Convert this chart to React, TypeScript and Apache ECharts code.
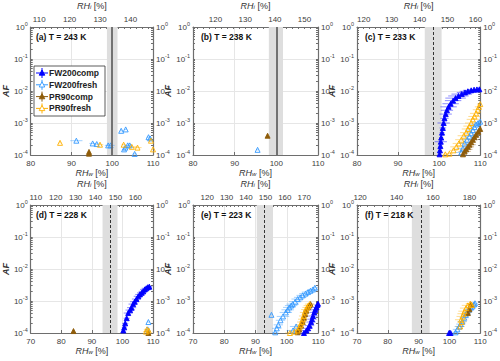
import React, { useEffect, useRef } from "react";
import * as echarts from "echarts";

// ---------- panel settings ----------
const panelTitles = ["(a) T = 243 K", "(b) T = 238 K", "(c) T = 233 K", "(d) T = 228 K", "(e) T = 223 K", "(f) T = 218 K"];
const rhwMin = [80, 80, 80, 70, 70, 70];
const rhwMax = [110, 110, 110, 110, 110, 110];
const iceRatio = [1.34, 1.405, 1.47, 1.535, 1.61, 1.69];
const topTicks = [
  [110, 120, 130, 140],
  [120, 130, 140, 150],
  [120, 130, 140, 150, 160],
  [110, 120, 130, 140, 150, 160],
  [120, 130, 140, 150, 160, 170],
  [120, 140, 160, 180],
];
const topMinorStep = [2, 2, 2, 2, 2, 4];
const bandLo = [98.7, 98.2, 96.5, 93.5, 90.4, 87.8];
const bandHi = [101.3, 101.6, 100.6, 98.4, 95.6, 93.6];
const lineX = [100, 100, 98.5, 96.1, 92.9, 90.7];
const lineDashed = [false, false, true, true, true, true];
const yTicks = [1e-4, 1e-3, 1e-2, 1e-1, 1];

// ---------- series ----------
const seriesNames = ["FW200comp", "FW200fresh", "PR90comp", "PR90fresh"];
const seriesColors = ["#0000ff", "#3399ff", "#8f5c0a", "#ffb000"];
const seriesFilled = [true, false, true, false];

// data: [RHw, AF, RHw error]
const a_FWcomp: number[][] = [];
const a_FWfresh = [[91.2, 2.8e-4, 1.5], [95.2, 2.3e-4, 0.8], [96.2, 2.2e-4, 0.8], [99.0, 2.0e-4, 0.8], [99.6, 2.0e-4, 1.0], [102.2, 5.7e-4, 0.3], [103.3, 6.3e-4, 0.3], [103.8, 2.0e-4, 0.6], [104.3, 2.0e-4, 0.6], [102.9, 1.5e-4, 0.3], [103.2, 1.7e-4, 0.3], [105.5, 1.08e-4, 0.5], [108.9, 3.6e-4, 0.5], [109.3, 3.3e-4, 0.5]];
const a_PRcomp = [[94.3, 1.25e-4, 0.2], [94.3, 1.1e-4, 0.2]];
const a_PRfresh = [[87.2, 2.4e-4, 0.3], [97.0, 2.1e-4, 0.8], [102.8, 2.1e-4, 0.5], [104.8, 1.8e-4, 1.5], [106.2, 1.7e-4, 1.0], [109.5, 2.8e-4, 0.8], [110, 1.5e-4, 0.3]];

const b_FWcomp: number[][] = [];
const b_FWfresh = [[95.5, 1.45e-4, 0.3]];
const b_PRcomp = [[97.9, 4.0e-4, 0.3]];
const b_PRfresh: number[][] = [];

const c_FWcomp = [[100.1, 1.05e-4, 0.3], [100.2, 1.4e-4, 0.3], [100.3, 1.9e-4, 0.5], [100.4, 2.6e-4, 1.5], [100.5, 3.5e-4, 0.5], [100.7, 5e-4, 0.6], [100.9, 7e-4, 0.8], [101.1, 1e-3, 1.5], [101.3, 1.4e-3, 1], [101.6, 1.9e-3, 1.5], [101.9, 2.5e-3, 1.5], [102.3, 3.2e-3, 2], [102.8, 4e-3, 2], [103.4, 5e-3, 2], [104, 6e-3, 2.5], [104.7, 7e-3, 2.5], [105.5, 8e-3, 2.5], [106.3, 9e-3, 2], [107, 9.8e-3, 2], [107.8, 1.05e-2, 2], [108.5, 1.1e-2, 1.5], [109.2, 1.12e-2, 1], [109.8, 1.13e-2, 0.5]];
const c_FWfresh = [[105.4, 1.2e-4, 1.5], [105.8, 1.6e-4, 1.5], [106.2, 2.3e-4, 1.5], [106.8, 3e-4, 1.5], [107.4, 3.8e-4, 1.5], [107.8, 4.8e-4, 1.5], [108.2, 6e-4, 1.5], [108.6, 7.5e-4, 1.2], [109, 9e-4, 1.2], [109.5, 1e-3, 1], [110, 1.1e-3, 0.8]];
const c_PRcomp = [[105.8, 1.05e-4, 1], [106.2, 1.3e-4, 1.5], [106.6, 1.5e-4, 1.5], [107, 1.8e-4, 1.5], [107.4, 2.1e-4, 1.5], [107.8, 2.5e-4, 1.2], [108.2, 3e-4, 1.2], [108.6, 3.6e-4, 1], [109, 4.3e-4, 1], [109.5, 5.3e-4, 0.8], [110, 6.5e-4, 0.5]];
const c_PRfresh = [[101.5, 1.05e-4, 0.5], [102.5, 1.1e-4, 0.8], [103.5, 1.4e-4, 1], [104.2, 1.8e-4, 1.5], [104.8, 2.3e-4, 1.5], [105.4, 3e-4, 1.5], [106, 4e-4, 1.5], [106.6, 5e-4, 1.5], [107, 6.5e-4, 1.5], [107.4, 8e-4, 1.5], [107.8, 1e-3, 1.5], [108.2, 1.3e-3, 1.5], [108.6, 1.6e-3, 1.5], [109, 2e-3, 1.5], [109.4, 2.6e-3, 1.2], [109.7, 3.2e-3, 1], [110, 3.9e-3, 0.8]];

const d_FWcomp = [[100.3, 1.2e-4, 0.5], [100.6, 1.5e-4, 0.8], [100.9, 2e-4, 1], [101.4, 2.9e-4, 1], [101.9, 4.2e-4, 1.5], [102.5, 5.2e-4, 1.5], [103, 6.2e-4, 1.5], [103.5, 8e-4, 1.5], [104, 9.5e-4, 1.5], [104.6, 1.15e-3, 1.5], [105.2, 1.4e-3, 1.5], [105.7, 1.6e-3, 1.5], [106.3, 1.8e-3, 1.5], [106.8, 2e-3, 1.5], [107.3, 2.3e-3, 1.5], [107.8, 2.5e-3, 1.5], [108.3, 2.7e-3, 1.2], [108.8, 2.8e-3, 1]];
const d_FWfresh = [[108.5, 2.2e-4, 0.5], [108.3, 1.3e-4, 0.5]];
const d_PRcomp = [[84, 1.15e-4, 0.3], [108.5, 1.0e-4, 0.5]];
const d_PRfresh = [[108, 1.3e-4, 1], [107.7, 1.1e-4, 1], [108.6, 1.2e-4, 0.5]];

const e_FWcomp = [[105.5, 1.0e-4, 1.5], [106.3, 1.2e-4, 1.5], [106.8, 1.4e-4, 1.5], [107.3, 1.7e-4, 1.5], [107.8, 2.2e-4, 1.5], [108.1, 2.7e-4, 1.5], [108.4, 3.4e-4, 1.5], [108.8, 4.4e-4, 1.5], [109.1, 5.3e-4, 1.5], [109.5, 6.3e-4, 1.5], [109.8, 7.5e-4, 1], [110, 8.2e-4, 0.5]];
const e_FWfresh = [[95.1, 3.7e-4, 0.3], [96.3, 1.05e-4, 1], [96.8, 1.4e-4, 1.5], [97.3, 1.8e-4, 1.5], [98, 2.5e-4, 1.5], [98.8, 3.3e-4, 2], [99.7, 4.4e-4, 2], [100.3, 5.3e-4, 2], [100.8, 6.3e-4, 2], [101.4, 7.2e-4, 2], [101.9, 8e-4, 2], [102.7, 9.5e-4, 2], [103.5, 1.15e-3, 2], [104.3, 1.3e-3, 2], [105.1, 1.5e-3, 2], [106, 1.7e-3, 2], [106.8, 1.9e-3, 2], [107.6, 2.1e-3, 1.5], [108.4, 2.3e-3, 1.5], [109, 2.6e-3, 1], [102, 1.2e-4, 2], [103, 1.6e-4, 2]];
const e_PRcomp = [[103.5, 1.05e-4, 1], [104, 1.3e-4, 1], [104.6, 1.7e-4, 1], [105.1, 2.2e-4, 1], [105.5, 3e-4, 1], [105.9, 3.9e-4, 1], [106.3, 5e-4, 1], [106.8, 6.3e-4, 1], [107.2, 7.2e-4, 1], [107.6, 8e-4, 1]];
const e_PRfresh = [[101, 1.0e-4, 1.5], [102.5, 1.1e-4, 1.5], [103.5, 1.2e-4, 1.5], [104, 1.5e-4, 1.5], [104.4, 1.8e-4, 1.5], [104.8, 2.2e-4, 1.5], [105.1, 2.7e-4, 1.5], [105.4, 3.4e-4, 1.5], [105.7, 4.4e-4, 1.5], [106.1, 5.4e-4, 1.5], [106.5, 6.3e-4, 1.5], [106.9, 7.2e-4, 1.5], [107.3, 8e-4, 1.5]];

const f_FWcomp = [[99.9, 1.0e-4, 0.3], [100.4, 1.0e-4, 0.3]];
const f_FWfresh = [[102, 1.05e-4, 1], [102.6, 1.3e-4, 1.5], [103.2, 1.6e-4, 1.5], [103.7, 1.9e-4, 1.5], [104.2, 2.3e-4, 1.5], [104.8, 3e-4, 1.5], [105.3, 3.7e-4, 1.5], [105.9, 4.5e-4, 1.5], [106.4, 5.4e-4, 1.5], [107, 6.2e-4, 1.5], [107.5, 6.8e-4, 1.5], [108, 7.8e-4, 1], [108.3, 8.5e-4, 1]];
const f_PRcomp = [[106, 4.2e-4, 1], [106.5, 5.5e-4, 1], [107, 7.7e-4, 1]];
const f_PRfresh = [[103.5, 1.6e-4, 1.5], [104, 2.2e-4, 1.5], [103.8, 2.6e-4, 2], [104.3, 3.3e-4, 2], [104.6, 4e-4, 2], [104.9, 4.8e-4, 2], [105.4, 6e-4, 2], [106, 7.3e-4, 2], [106.8, 8.3e-4, 1.5], [107.3, 7.5e-4, 1.5]];

const panelData = [
  [a_FWcomp, a_FWfresh, a_PRcomp, a_PRfresh],
  [b_FWcomp, b_FWfresh, b_PRcomp, b_PRfresh],
  [c_FWcomp, c_FWfresh, c_PRcomp, c_PRfresh],
  [d_FWcomp, d_FWfresh, d_PRcomp, d_PRfresh],
  [e_FWcomp, e_FWfresh, e_PRcomp, e_PRfresh],
  [f_FWcomp, f_FWfresh, f_PRcomp, f_PRfresh],
];

// ---------- layout ----------
const colLeft = [28, 193, 357];
const colWidth = [125, 125, 124];
const rowTop = [27, 205];
const plotH = 128;

const FONT = "Liberation Sans, Arial, Helvetica, sans-serif";
const TXT = "#404040";
const AXIS = "#6e6e6e";

const supRich = {
  b: { fontSize: 8, color: TXT, fontFamily: FONT, lineHeight: 12, verticalAlign: "middle" },
  s: { fontSize: 5.5, color: TXT, fontFamily: FONT, lineHeight: 6, verticalAlign: "top" },
};
const nameRich = (color: string) => ({
  i: { fontSize: 9, fontStyle: "italic", color, fontFamily: FONT, lineHeight: 9, verticalAlign: "middle" },
  sub: { fontSize: 6, fontStyle: "italic", color, fontFamily: FONT, lineHeight: 3, verticalAlign: "bottom" },
  n: { fontSize: 9, color, fontFamily: FONT, lineHeight: 9, verticalAlign: "middle" },
});

function logLabel(v: number) {
  const e = Math.round(Math.log10(v));
  return `{b|10}{s|${e}}`;
}

function buildOption() {
  const grid: any[] = [];
  const xAxis: any[] = [];
  const yAxis: any[] = [];
  const series: any[] = [];
  const graphic: any[] = [];

  const yMinor: number[] = [];
  for (let k = -4; k < 0; k++) for (let m = 1; m <= 9; m++) yMinor.push(m * Math.pow(10, k));
  yMinor.push(1);

  for (let p = 0; p < 6; p++) {
    const r = Math.floor(p / 3);
    const c = p % 3;
    const left = colLeft[c];
    const top = rowTop[r];
    const width = colWidth[c];
    grid.push({ left, top, width, height: plotH, containLabel: false });

    const xmin = rhwMin[p];
    const xmax = rhwMax[p];
    const ratio = iceRatio[p];

    // bottom RHw axis
    xAxis.push({
      gridIndex: p,
      type: "value",
      position: "bottom",
      min: xmin,
      max: xmax,
      interval: 10,
      name: "{i|RH}{sub|w}{n| [%]}",
      nameLocation: "middle",
      nameGap: 13,
      nameTextStyle: { rich: nameRich("#333") },
      axisLine: { show: true, lineStyle: { color: AXIS, width: 1.2 } },
      axisTick: { show: true, inside: true, length: 3, lineStyle: { color: AXIS } },
      axisLabel: { color: TXT, fontSize: 8, fontFamily: FONT, margin: 4 },
      splitLine: { show: true, lineStyle: { color: "#e6e6e6", width: 1 } },
    });
    // top RHi axis (same RHw scale, labelled in RHi)
    const minorVals: number[] = [];
    const step = topMinorStep[p];
    for (let v = Math.ceil((xmin * ratio) / step) * step; v <= xmax * ratio; v += step) minorVals.push(v / ratio);
    xAxis.push({
      gridIndex: p,
      type: "value",
      position: "top",
      min: xmin,
      max: xmax,
      name: "{i|RH}{sub|i}{n| [%]}",
      nameLocation: "middle",
      nameGap: 17,
      nameTextStyle: { rich: nameRich("#333") },
      axisLine: { show: true, lineStyle: { color: AXIS, width: 1.2 } },
      axisTick: { show: true, inside: true, length: 2, customValues: minorVals, lineStyle: { color: AXIS } },
      axisLabel: {
        color: TXT,
        fontSize: 8,
        fontFamily: FONT,
        margin: 4,
        customValues: topTicks[p].map((t) => t / ratio),
        formatter: (v: number) => String(Math.round(v * ratio)),
      },
      splitLine: { show: false },
    });

    // left labelled axis
    yAxis.push({
      gridIndex: p,
      type: "log",
      logBase: 10,
      min: 1e-4,
      max: 1,
      position: "left",
      name: "AF",
      nameLocation: "middle",
      nameGap: 19,
      nameRotate: 90,
      nameTextStyle: { fontSize: 9, fontStyle: "italic", fontWeight: "bold", color: "#333", fontFamily: FONT },
      axisLine: { show: true, lineStyle: { color: AXIS, width: 1.2 } },
      axisTick: { show: true, inside: true, length: 2, customValues: yMinor, lineStyle: { color: AXIS } },
      axisLabel: { formatter: logLabel, rich: supRich, margin: 3, customValues: yTicks },
      splitLine: { show: false },
    });
    // right labelled axis
    yAxis.push({
      gridIndex: p,
      type: "log",
      logBase: 10,
      min: 1e-4,
      max: 1,
      position: "right",
      axisLine: { show: true, lineStyle: { color: AXIS, width: 1.2 } },
      axisTick: { show: true, inside: true, length: 2, customValues: yMinor, lineStyle: { color: AXIS } },
      axisLabel: { formatter: logLabel, rich: supRich, margin: 3, customValues: yTicks },
      splitLine: { show: false },
    });
    // hidden axis for decade grid lines
    yAxis.push({
      gridIndex: p,
      type: "log",
      logBase: 10,
      min: 1e-4,
      max: 1,
      position: "left",
      axisLine: { show: false },
      axisTick: { show: false, customValues: yTicks },
      axisLabel: { show: false },
      splitLine: { show: true, lineStyle: { color: "#e6e6e6", width: 1 } },
    });

    const yi = 3 * p;
    // band + vertical line
    series.push({
      type: "line",
      xAxisIndex: 2 * p,
      yAxisIndex: yi,
      data: [],
      silent: true,
      markArea: {
        silent: true,
        itemStyle: { color: "#dedede" },
        data: [[{ xAxis: bandLo[p] }, { xAxis: bandHi[p] }]],
      },
      markLine: {
        silent: true,
        symbol: "none",
        label: { show: false },
        lineStyle: lineDashed[p]
          ? { color: "#333", width: 1, type: [3, 2] }
          : { color: "#666", width: 1.8, type: "solid" },
        data: [{ xAxis: lineX[p] }],
      },
    });

    // data series
    panelData[p].forEach((pts, si) => {
      const col = seriesColors[si];
      series.push({
        type: "custom",
        name: seriesNames[si] + "-err",
        xAxisIndex: 2 * p,
        yAxisIndex: yi,
        silent: true,
        data: pts.map(([x, y, e]) => [Math.max(xmin, x - e), Math.min(xmax, x + e), y]),
        encode: { x: [0, 1], y: 2 },
        renderItem: (_params: any, api: any) => {
          const a = api.coord([api.value(0), api.value(2)]);
          const b = api.coord([api.value(1), api.value(2)]);
          return {
            type: "line",
            shape: { x1: a[0], y1: a[1], x2: b[0], y2: b[1] },
            style: { stroke: col, lineWidth: 1, opacity: 0.45 },
          };
        },
      });
      series.push({
        type: "scatter",
        name: seriesNames[si],
        xAxisIndex: 2 * p,
        yAxisIndex: yi,
        symbol: "triangle",
        symbolSize: 5,
        data: pts.map(([x, y]) => [x, y]),
        itemStyle: {
          color: seriesFilled[si] ? col : "rgba(255,255,255,0)",
          borderColor: col,
          borderWidth: 0.9,
          opacity: 1,
        },
      });
    });

    graphic.push({
      type: "text",
      left: left + 8,
      top: top + 5,
      style: { text: panelTitles[p], font: `bold 8.5px ${FONT}`, fill: "#111" },
      z: 100,
    });
  }

  // legend box in panel (a)
  const lx = 34, ly = 66, lw = 71, lh = 50;
  graphic.push({
    type: "rect",
    shape: { x: lx, y: ly, width: lw, height: lh },
    style: { fill: "#fff", stroke: "#333", lineWidth: 0.8 },
    z: 100,
  });
  seriesNames.forEach((nm, i) => {
    const cy = ly + 7 + i * 11.8;
    const cx = lx + 8;
    const col = seriesColors[i];
    graphic.push({ type: "line", shape: { x1: cx - 6, y1: cy, x2: cx + 6, y2: cy }, style: { stroke: col, lineWidth: 1 }, z: 101 });
    graphic.push({ type: "line", shape: { x1: cx, y1: cy - 5, x2: cx, y2: cy + 5 }, style: { stroke: col, lineWidth: 1 }, z: 101 });
    graphic.push({
      type: "polygon",
      shape: { points: [[cx, cy - 3], [cx - 2.8, cy + 2.2], [cx + 2.8, cy + 2.2]] },
      style: { fill: seriesFilled[i] ? col : "#fff", stroke: col, lineWidth: 0.9 },
      z: 102,
    });
    graphic.push({
      type: "text",
      x: cx + 7,
      y: cy,
      style: { text: nm, font: `bold 8.5px ${FONT}`, fill: "#222", verticalAlign: "middle", textVerticalAlign: "middle" },
      z: 102,
    });
  });

  return {
    animation: false,
    backgroundColor: "#ffffff",
    grid,
    xAxis,
    yAxis,
    series,
    graphic,
  };
}

export default function App() {
  const ref = useRef<HTMLDivElement>(null);
  useEffect(() => {
    document.body.style.margin = "0";
    if (!ref.current) return;
    const chart = echarts.init(ref.current, null, { renderer: "svg" });
    chart.setOption(buildOption() as any);
    return () => chart.dispose();
  }, []);
  return <div ref={ref} style={{ position: "absolute", left: 0, top: 0, width: 500, height: 361 }} />;
}
